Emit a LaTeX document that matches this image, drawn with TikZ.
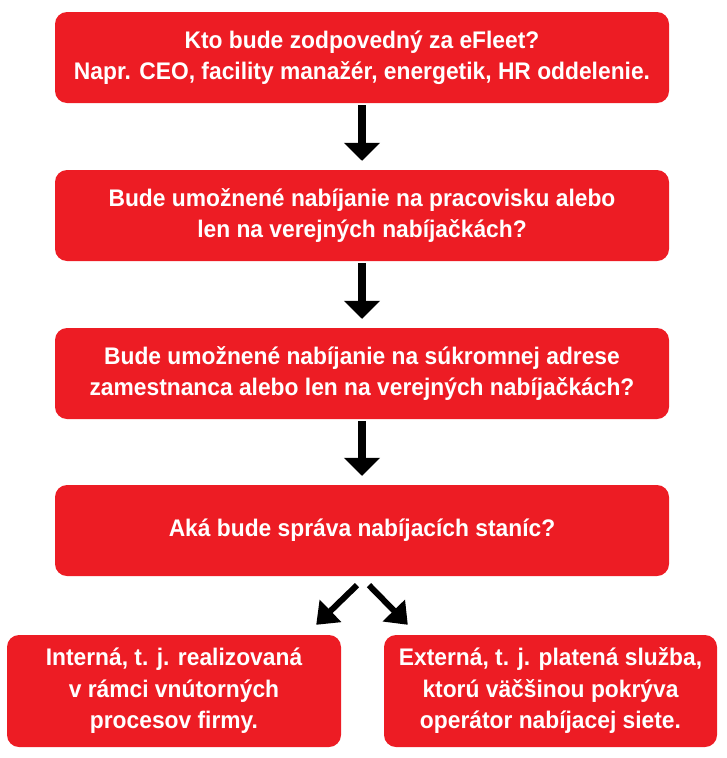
\documentclass[tikz,border=0pt]{standalone}
\usepackage{fontspec}
\newfontfamily\boxfont[FakeStretch=0.95]{Liberation Sans}
\usetikzlibrary{arrows.meta}
\definecolor{efred}{RGB}{237,28,36}

\begin{document}
\begin{tikzpicture}[x=1pt, y=-1pt,
  box/.style={fill=efred, text=white, rounded corners=12pt, align=center, inner sep=0pt,
    font=\boxfont\bfseries\fontsize{24}{31.5}\selectfont},
  down/.style={line width=8pt, -{Triangle[length=18pt,width=35pt]}, shorten >=9pt, shorten <=2pt},
  side/.style={line width=6pt, -{Triangle[length=20pt,width=30pt]}}]
% Page frame
\useasboundingbox (0,0) rectangle (726,758);
% Questions
\node[box, minimum width=614pt, minimum height=91pt] (who) at (362,57.5)
  {Kto bude zodpovedný za eFleet?\\Napr. CEO, facility manažér, energetik, HR oddelenie.};
\node[box, minimum width=614pt, minimum height=91pt] (work) at (362,215.5)
  {Bude umožnené nabíjanie na pracovisku alebo\\len na verejných nabíjačkách?};
\node[box, minimum width=614pt, minimum height=91pt] (home) at (362,373.5)
  {Bude umožnené nabíjanie na súkromnej adrese\\zamestnanca alebo len na verejných nabíjačkách?};
\node[box, minimum width=614pt, minimum height=91pt] (admin) at (362,530.5)
  {Aká bude správa nabíjacích staníc?};
% Answers
\node[box, minimum width=334pt, minimum height=112pt] (intern) at (174,691)
  {Interná, t. j. realizovaná\\v rámci vnútorných\\procesov firmy.};
\node[box, minimum width=333pt, minimum height=112pt] (extern) at (550.5,691)
  {Externá, t. j. platená služba,\\ktorú väčšinou pokrýva\\operátor nabíjacej siete.};
% Arrows
\draw[down] (who) -- (work);
\draw[down] (work) -- (home);
\draw[down] (home) -- (admin);
\draw[side] ([shift={(-5,9)}]admin.south) -- ([shift={(-25,-10)}]intern.north east);
\draw[side] ([shift={(7,9)}]admin.south) -- ([shift={(24,-10)}]extern.north west);
\end{tikzpicture}
\end{document}
